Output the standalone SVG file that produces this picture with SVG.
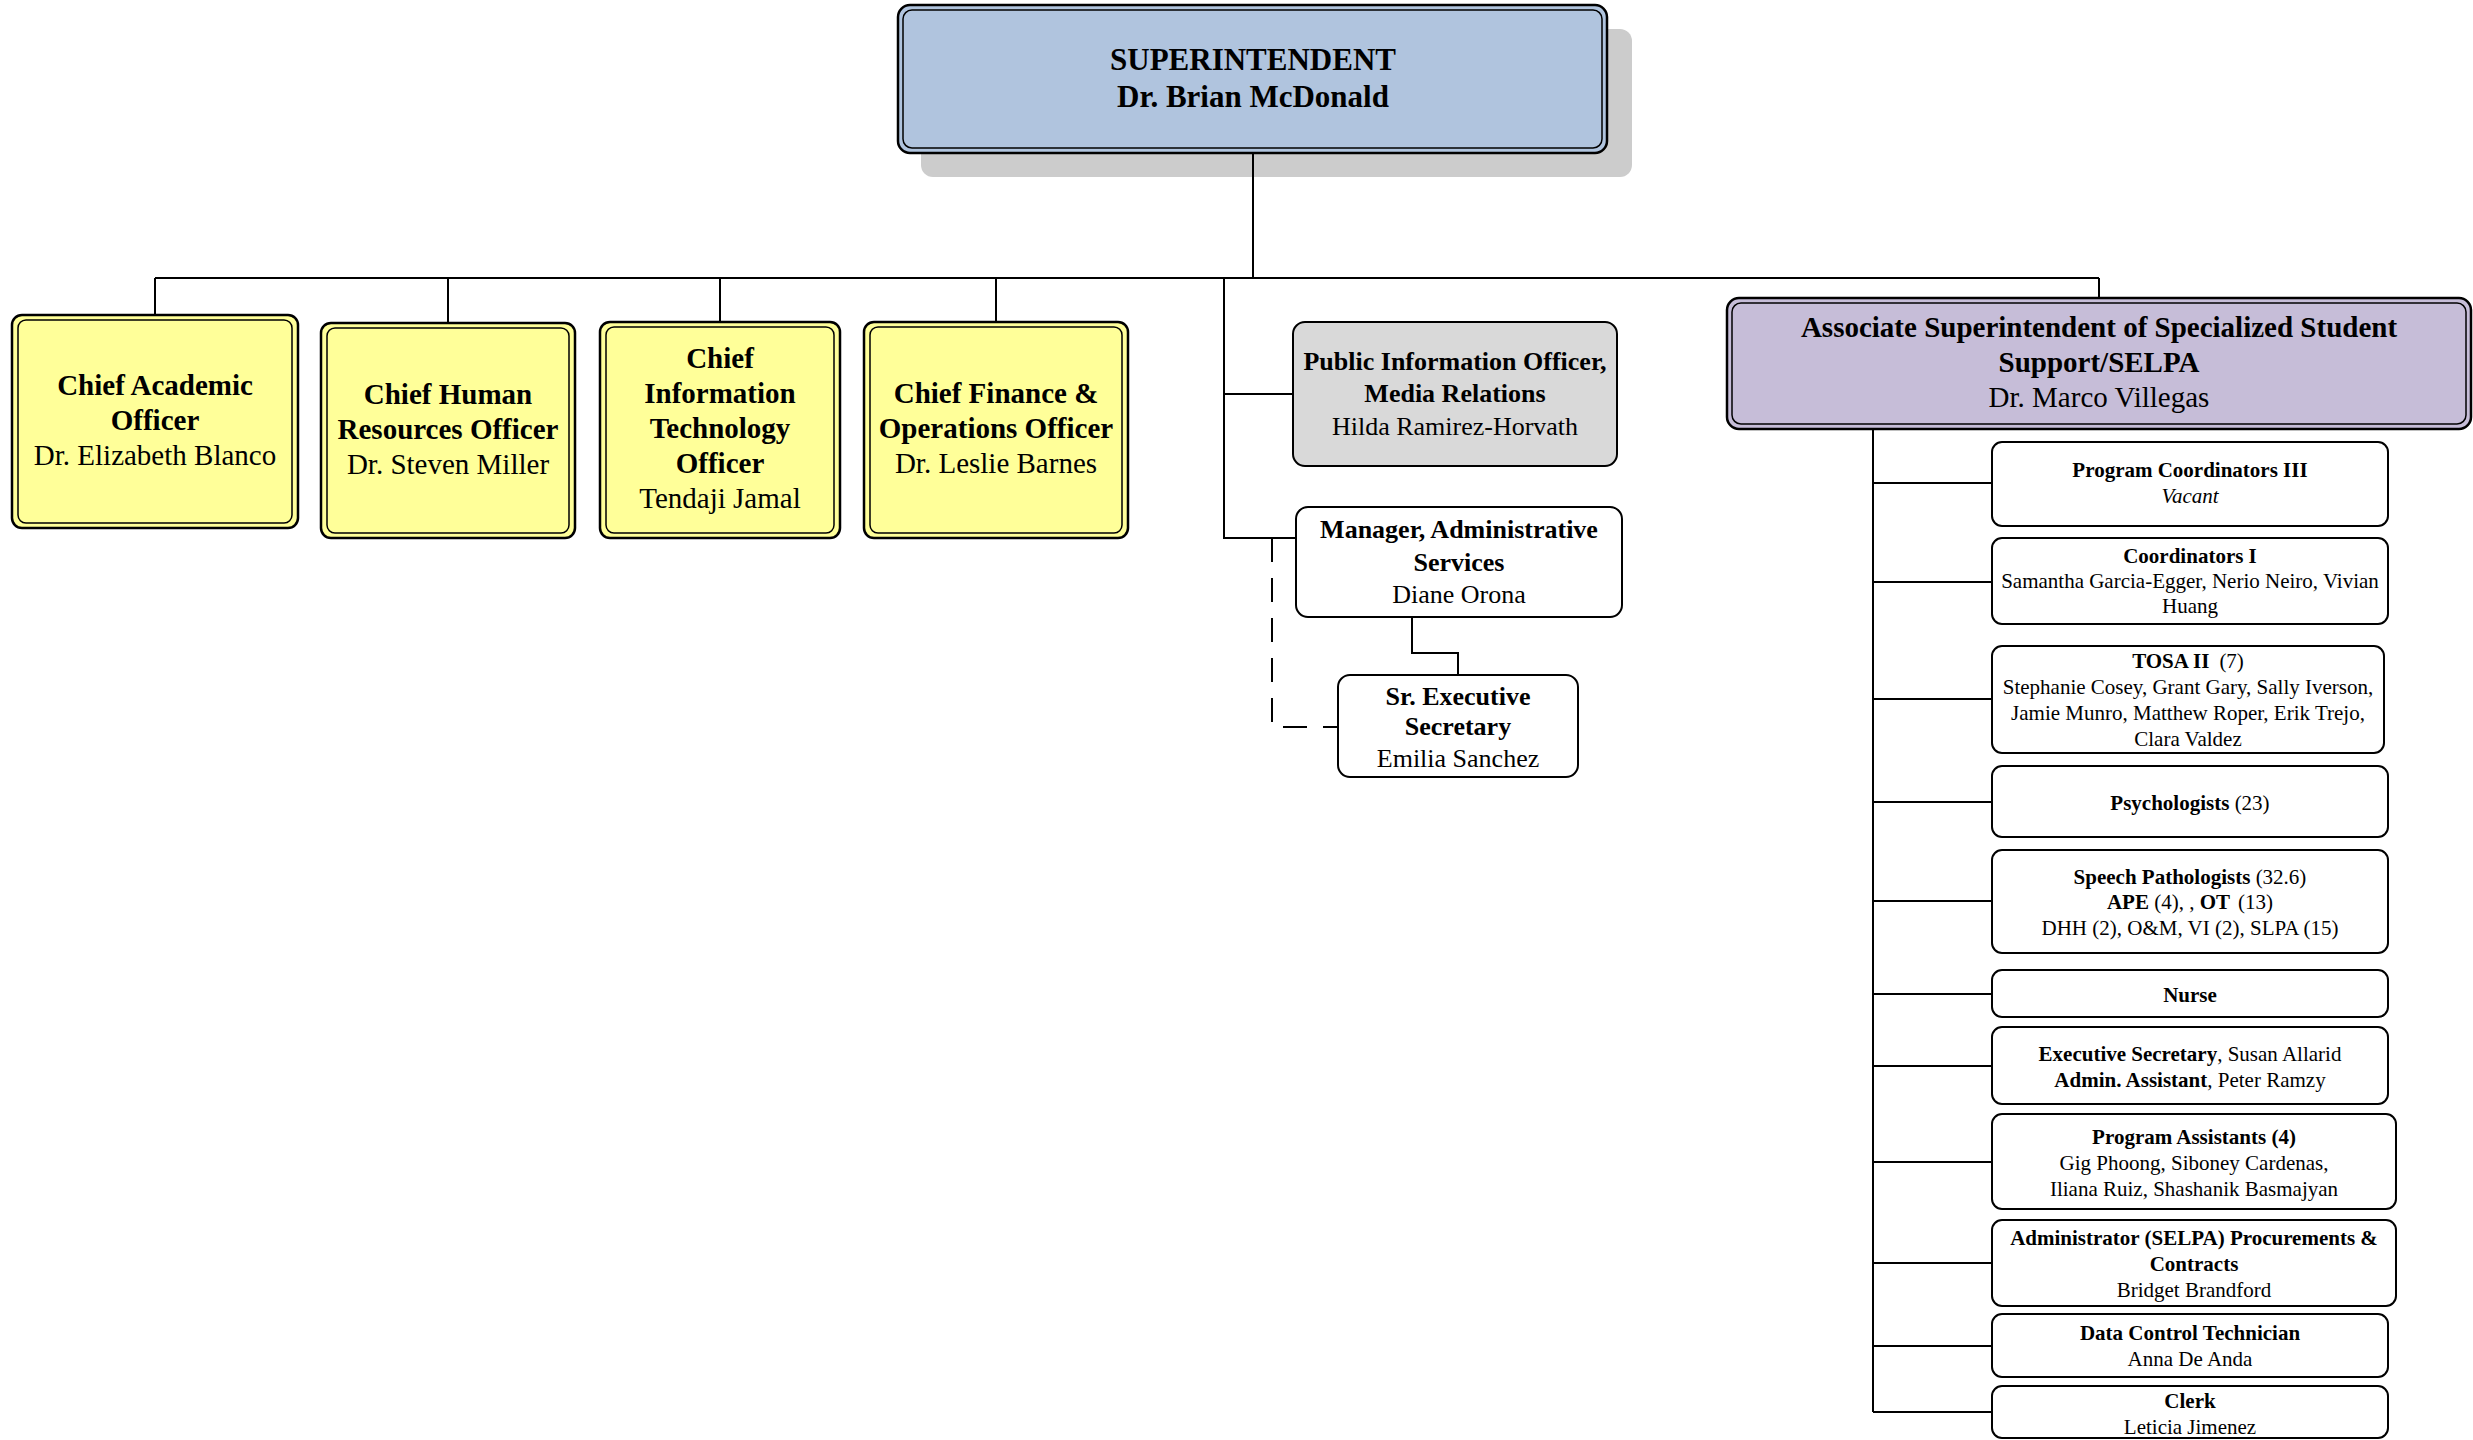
<svg xmlns="http://www.w3.org/2000/svg" width="2473" height="1440" viewBox="0 0 2473 1440">
<style>
.t{font-family:"Liberation Serif","Times New Roman",serif;text-anchor:middle;fill:#000}
.b{font-weight:bold}
.i{font-style:italic}
.box{fill:#fff;stroke:#000;stroke-width:2}
.dbl{stroke:#000;stroke-width:2.5}
.inner{fill:none;stroke:#000;stroke-width:1.5}
.yel{fill:#FFFF99}
.conn{fill:none;stroke:#000;stroke-width:2}
.dash{stroke-dasharray:24 16}
.f29{font-size:29px}
.f26{font-size:26px}
.f21{font-size:21px}
</style>
<rect width="2473" height="1440" fill="#fff"/>
<g id="superintendent">
<rect x="921" y="29" width="711" height="148" rx="12" fill="#CCCCCC"/>
<rect class="dbl" x="898" y="5" width="709" height="148" rx="12" fill="#B0C4DE"/>
<rect class="inner" x="903" y="10" width="699" height="138" rx="9"/>
<text class="t b" font-size="31" x="1253" y="70">SUPERINTENDENT</text>
<text class="t b" font-size="31" x="1253" y="107">Dr. Brian McDonald</text>
</g>
<g id="connectors">
<path class="conn" d="M1253 153V278M155 278H2099M155 278V315M448 278V323M720 278V322M996 278V322M1224 278V538H1296M1224 394H1293M2099 278V298M1412 617V653H1458V675"/>
<path class="conn dash" d="M1272 538V727H1338"/>
<path class="conn" d="M1873 429V1412M1873 483H1992M1873 582H1992M1873 699H1992M1873 802H1992M1873 901H1992M1873 994H1992M1873 1066H1992M1873 1162H1992M1873 1263H1992M1873 1346H1992M1873 1412H1992"/>
</g>
<g id="chief-academic">
<rect class="dbl yel" x="12" y="315" width="286" height="213" rx="10"/>
<rect class="inner" x="18" y="320" width="274" height="203" rx="8"/>
<text class="t b f29" x="155" y="395">Chief Academic</text>
<text class="t b f29" x="155" y="430">Officer</text>
<text class="t f29" x="155" y="465">Dr. Elizabeth Blanco</text>
</g>
<g id="chief-hr">
<rect class="dbl yel" x="321" y="323" width="254" height="215" rx="10"/>
<rect class="inner" x="327" y="328" width="242" height="205" rx="8"/>
<text class="t b f29" x="448" y="404">Chief Human</text>
<text class="t b f29" x="448" y="439">Resources Officer</text>
<text class="t f29" x="448" y="474">Dr. Steven Miller</text>
</g>
<g id="chief-it">
<rect class="dbl yel" x="600" y="322" width="240" height="216" rx="10"/>
<rect class="inner" x="606" y="327" width="228" height="206" rx="8"/>
<text class="t b f29" x="720" y="368">Chief</text>
<text class="t b f29" x="720" y="403">Information</text>
<text class="t b f29" x="720" y="438">Technology</text>
<text class="t b f29" x="720" y="473">Officer</text>
<text class="t f29" x="720" y="508">Tendaji Jamal</text>
</g>
<g id="chief-finance">
<rect class="dbl yel" x="864" y="322" width="264" height="216" rx="10"/>
<rect class="inner" x="870" y="327" width="252" height="206" rx="8"/>
<text class="t b f29" x="996" y="403">Chief Finance &amp;</text>
<text class="t b f29" x="996" y="438">Operations Officer</text>
<text class="t f29" x="996" y="473">Dr. Leslie Barnes</text>
</g>
<g id="pio">
<rect class="box" x="1293" y="322" width="324" height="144" rx="12" style="fill:#D9D9D9"/>
<text class="t b f26" x="1455" y="370">Public Information Officer,</text>
<text class="t b f26" x="1455" y="402">Media Relations</text>
<text class="t f26" x="1455" y="435">Hilda Ramirez-Horvath</text>
</g>
<g id="manager-admin">
<rect class="box" x="1296" y="507" width="326" height="110" rx="12"/>
<text class="t b f26" x="1459" y="538">Manager, Administrative</text>
<text class="t b f26" x="1459" y="571">Services</text>
<text class="t f26" x="1459" y="603">Diane Orona</text>
</g>
<g id="sr-exec-secretary">
<rect class="box" x="1338" y="675" width="240" height="102" rx="12"/>
<text class="t b f26" x="1458" y="705">Sr. Executive</text>
<text class="t b f26" x="1458" y="735">Secretary</text>
<text class="t f26" x="1458" y="767">Emilia Sanchez</text>
</g>
<g id="assoc-superintendent">
<rect class="dbl" x="1727" y="298" width="744" height="131" rx="12" fill="#C6BDD8"/>
<rect class="inner" x="1732" y="303" width="734" height="121" rx="9"/>
<text class="t b f29" x="2099" y="337">Associate Superintendent of Specialized Student</text>
<text class="t b f29" x="2099" y="372">Support/SELPA</text>
<text class="t f29" x="2099" y="407">Dr. Marco Villegas</text>
</g>
<g id="program-coordinators-iii">
<rect class="box" x="1992" y="442" width="396" height="84" rx="10"/>
<text class="t b f21" x="2190" y="477">Program Coordinators III</text>
<text class="t i f21" x="2190" y="503">Vacant</text>
</g>
<g id="coordinators-i">
<rect class="box" x="1992" y="538" width="396" height="86" rx="10"/>
<text class="t b f21" x="2190" y="563">Coordinators I</text>
<text class="t f21" x="2190" y="588">Samantha Garcia-Egger, Nerio Neiro, Vivian</text>
<text class="t f21" x="2190" y="613">Huang</text>
</g>
<g id="tosa-ii">
<rect class="box" x="1992" y="646" width="392" height="107" rx="10"/>
<text class="t f21" x="2188" y="668"><tspan class="b">TOSA II</tspan><tspan dx="10">(7)</tspan></text>
<text class="t f21" x="2188" y="694">Stephanie Cosey, Grant Gary, Sally Iverson,</text>
<text class="t f21" x="2188" y="720">Jamie Munro, Matthew Roper, Erik Trejo,</text>
<text class="t f21" x="2188" y="746">Clara Valdez</text>
</g>
<g id="psychologists">
<rect class="box" x="1992" y="766" width="396" height="71" rx="10"/>
<text class="t f21" x="2190" y="810"><tspan class="b">Psychologists</tspan> (23)</text>
</g>
<g id="speech-pathologists">
<rect class="box" x="1992" y="850" width="396" height="103" rx="10"/>
<text class="t f21" x="2190" y="884"><tspan class="b">Speech Pathologists</tspan> (32.6)</text>
<text class="t f21" x="2190" y="909"><tspan class="b">APE</tspan> (4), , <tspan class="b">OT</tspan><tspan dx="8">(13)</tspan></text>
<text class="t f21" x="2190" y="935">DHH (2), O&amp;M, VI (2), SLPA (15)</text>
</g>
<g id="nurse">
<rect class="box" x="1992" y="970" width="396" height="47" rx="10"/>
<text class="t b f21" x="2190" y="1002">Nurse</text>
</g>
<g id="exec-secretary">
<rect class="box" x="1992" y="1027" width="396" height="77" rx="10"/>
<text class="t f21" x="2190" y="1061"><tspan class="b">Executive Secretary</tspan>, Susan Allarid</text>
<text class="t f21" x="2190" y="1087"><tspan class="b">Admin. Assistant</tspan>, Peter Ramzy</text>
</g>
<g id="program-assistants">
<rect class="box" x="1992" y="1114" width="404" height="95" rx="10"/>
<text class="t b f21" x="2194" y="1144">Program Assistants (4)</text>
<text class="t f21" x="2194" y="1170">Gig Phoong, Siboney Cardenas,</text>
<text class="t f21" x="2194" y="1196">Iliana Ruiz, Shashanik Basmajyan</text>
</g>
<g id="administrator-selpa">
<rect class="box" x="1992" y="1220" width="404" height="86" rx="10"/>
<text class="t b f21" x="2194" y="1245">Administrator (SELPA) Procurements &amp;</text>
<text class="t b f21" x="2194" y="1271">Contracts</text>
<text class="t f21" x="2194" y="1297">Bridget Brandford</text>
</g>
<g id="data-control-technician">
<rect class="box" x="1992" y="1314" width="396" height="63" rx="10"/>
<text class="t b f21" x="2190" y="1340">Data Control Technician</text>
<text class="t f21" x="2190" y="1366">Anna De Anda</text>
</g>
<g id="clerk">
<rect class="box" x="1992" y="1386" width="396" height="52" rx="10"/>
<text class="t b f21" x="2190" y="1408">Clerk</text>
<text class="t f21" x="2190" y="1434">Leticia Jimenez</text>
</g>
</svg>
